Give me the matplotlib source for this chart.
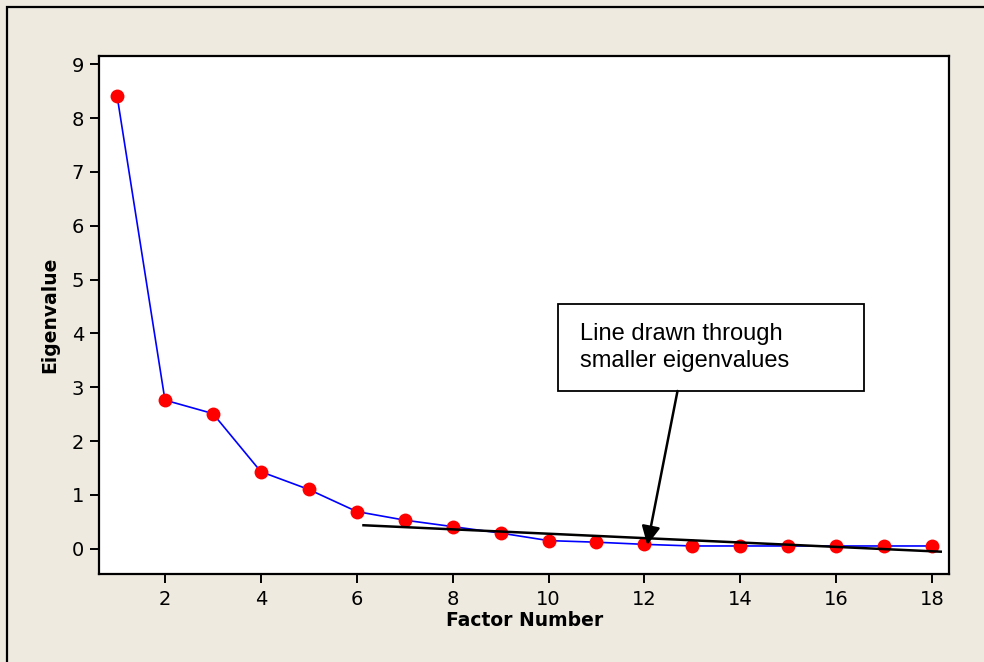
import matplotlib
matplotlib.use("Agg")
import matplotlib.pyplot as plt
from matplotlib.patches import Rectangle

# Scree plot data
factor_number = [1, 2, 3, 4, 5, 6, 7, 8, 9, 10, 11, 12, 13, 14, 15, 16, 17, 18]
eigenvalue = [8.42, 2.76, 2.51, 1.43, 1.10, 0.69, 0.53, 0.41, 0.29, 0.15,
              0.12, 0.08, 0.05, 0.05, 0.05, 0.05, 0.05, 0.05]

# Straight line fitted by eye through the smaller eigenvalues
fit_x = [6.14, 18.18]
fit_y = [0.435, -0.056]

x_ticks = [2, 4, 6, 8, 10, 12, 14, 16, 18]
y_ticks = [0, 1, 2, 3, 4, 5, 6, 7, 8, 9]

note_text = "Line drawn through\nsmaller eigenvalues"
note_target = (12.06, 0.07)

bg = "#EEEAE0"
fig = plt.figure(figsize=(9.84, 6.62), dpi=100, facecolor=bg)

# Outer frame of the graph window
frame = Rectangle((7 / 984, -0.05), 1.1, 1 - 7 / 662 + 0.05,
                  transform=fig.transFigure, fill=False,
                  edgecolor="black", linewidth=1.6, zorder=0)
fig.patches.append(frame)

ax = fig.add_axes([0.1009, 0.1325, 0.8639, 0.7834])
ax.set_facecolor("white")

ax.plot(factor_number, eigenvalue, color="#0000FF", linewidth=1.2, zorder=2)
ax.plot(factor_number, eigenvalue, linestyle="none", marker="o",
        markersize=10, color="#FF0000", markeredgewidth=0, zorder=3)
ax.plot(fit_x, fit_y, color="black", linewidth=1.8, zorder=4)

ax.set_xlim(0.63, 18.36)
ax.set_ylim(-0.476, 9.16)
ax.set_xticks(x_ticks)
ax.set_yticks(y_ticks)

for s in ax.spines.values():
    s.set_linewidth(1.6)
ax.tick_params(axis="both", direction="out", length=6.5, width=1.4,
               labelsize=14, pad=4.5, colors="black")
ax.tick_params(top=False, right=False)

ax.set_xlabel("Factor Number", fontsize=13.5, fontweight="bold", labelpad=2)
ax.set_ylabel("Eigenvalue", fontsize=13.5, fontweight="bold", labelpad=9)

# Annotation box with arrow
box_left, box_right = 10.2, 16.57
box_bottom, box_top = 2.93, 4.54
ax.add_patch(Rectangle((box_left, box_bottom), box_right - box_left,
                       box_top - box_bottom, facecolor="white",
                       edgecolor="black", linewidth=1.3, zorder=5))
ax.text(box_left + 0.45, (box_top + box_bottom) / 2, note_text,
        family="Liberation Sans", fontsize=17, va="center", ha="left",
        linespacing=1.3, zorder=6)
ax.annotate("", xy=note_target, xytext=(12.69, box_bottom),
            arrowprops=dict(arrowstyle="-|>", color="black", lw=1.8,
                            mutation_scale=28, shrinkA=0, shrinkB=0),
            zorder=6)

fig.savefig("out.png", dpi=100, facecolor=bg)
